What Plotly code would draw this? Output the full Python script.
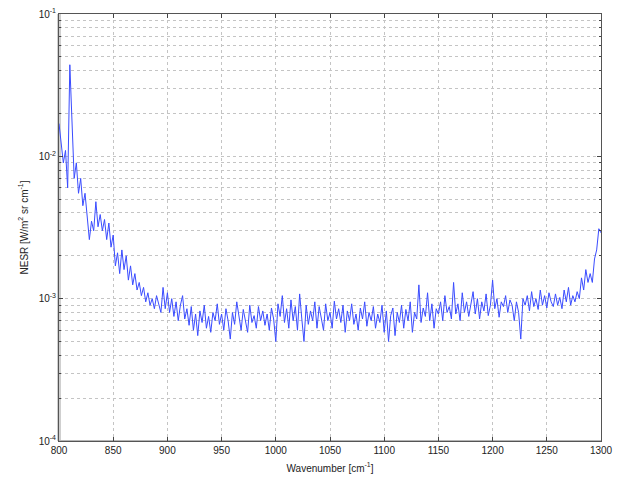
import plotly.graph_objects as go

# Wavenumber grid [cm^-1]
wavenumber = list(range(800, 1301, 2))

# NESR values in units of 1e-3 W/(m^2 sr cm^-1)
nesr_e3 = [
    17, 12, 9, 11, 6,
    44, 18, 7, 9, 5.5,
    7, 4.5, 5.5, 3.8, 2.6,
    3.5, 3.0, 4.8, 3.2, 3.9,
    3.0, 3.6, 2.6, 3.4, 2.3,
    2.8, 1.7, 2.1, 1.5, 2.2,
    1.6, 2.0, 1.35, 1.7, 1.25,
    1.5, 1.15, 1.3, 1.05, 1.2,
    0.95, 1.1, 0.9, 1.0, 0.85,
    1.05, 0.9, 0.8, 1.2, 0.85,
    1.1, 0.8, 1.0, 0.75, 0.95,
    0.7, 0.9, 1.05, 0.72, 0.85,
    0.65, 0.88, 0.6, 0.78, 0.55,
    0.82, 0.68, 0.9, 0.62, 0.75,
    0.58, 0.8, 0.7, 0.92, 0.66,
    0.78, 0.6, 0.85, 0.7, 0.52,
    0.8, 0.66, 0.95, 0.72, 0.6,
    0.84, 0.7, 0.58, 0.9, 0.68,
    0.76, 0.62, 0.88, 0.7, 0.82,
    0.65, 0.78, 0.6, 0.86, 0.72,
    0.5, 0.92, 0.75, 1.05, 0.68,
    0.85, 0.62, 0.98, 0.7, 0.88,
    0.6, 1.08, 0.72, 0.5, 0.9,
    0.66, 0.82, 0.7, 0.95, 0.62,
    0.88, 0.74, 0.6, 0.92, 0.7,
    0.8, 0.62, 0.96, 0.72, 0.85,
    0.68, 0.9, 0.58, 0.82, 0.7,
    0.92, 0.66, 0.78, 0.6, 0.86,
    0.72, 0.95, 0.64, 0.8, 0.7,
    0.88, 0.62, 0.78, 0.68, 0.9,
    0.58, 0.82, 0.5, 0.76, 0.86,
    0.55, 0.8, 0.68, 0.9, 0.62,
    0.84, 0.7, 0.95, 0.58, 0.8,
    0.72, 1.25, 0.68, 0.86, 0.75,
    1.1, 0.7, 0.92, 0.62, 0.85,
    0.78, 0.95, 0.7, 1.05, 0.8,
    0.88, 0.72, 1.3, 0.78, 0.92,
    0.7, 1.1, 0.8, 0.95, 0.75,
    0.9, 1.12, 0.78, 1.0, 0.72,
    0.95, 0.82, 1.08, 0.76, 0.9,
    1.35, 0.85, 1.0, 0.74, 0.95,
    0.88, 1.05, 0.8, 0.98, 0.9,
    0.7, 0.95, 0.8, 0.52, 1.0,
    0.9, 1.05, 0.82, 1.12, 0.88,
    1.0, 0.84, 1.15, 0.9, 1.05,
    0.86, 1.1, 0.95, 0.88, 1.08,
    0.9, 1.02, 0.85, 1.15, 0.95,
    1.2, 0.9, 1.05, 0.95, 1.12,
    1.0, 1.4, 1.15, 1.6, 1.3,
    1.5, 1.3, 1.9, 2.2, 3.1,
    2.9,
]
nesr = [v * 1e-3 for v in nesr_e3]

ytick_vals = [1e-4, 1e-3, 1e-2, 1e-1]
ytick_text = ["10<sup>-4</sup>", "10<sup>-3</sup>", "10<sup>-2</sup>", "10<sup>-1</sup>"]
xtick_vals = list(range(800, 1301, 50))

font = dict(family="Liberation Sans, Arial, sans-serif", size=10, color="#222")
grid_col = "#c4c4c4"

fig = go.Figure()
fig.add_trace(go.Scatter(
    x=wavenumber, y=nesr, mode="lines",
    line=dict(color="#3a4cff", width=1),
    showlegend=False,
))

fig.update_layout(
    width=619, height=486,
    margin=dict(l=59, r=18, t=14, b=45),
    paper_bgcolor="white", plot_bgcolor="white",
    font=font,
    shapes=[
        dict(type="line", xref="paper", yref="paper", x0=0, x1=0, y0=0, y1=1,
             line=dict(color="#cfcfcf", width=4), layer="below"),
        dict(type="line", xref="paper", yref="paper", x0=0, x1=1, y0=0, y1=0,
             line=dict(color="#b5b5b5", width=2), layer="below"),
    ],
)

fig.update_xaxes(
    range=[800, 1300], tickvals=xtick_vals, automargin=False,
    showgrid=True, gridcolor=grid_col, griddash="dot", gridwidth=1,
    ticks="inside", ticklen=4, tickcolor="#444",
    showline=True, linecolor="#555", linewidth=1, mirror="ticks",
    zeroline=False,
    title=dict(text="Wavenumber [cm<sup>-1</sup>]", standoff=9, font=font),
    tickfont=font,
)
fig.update_yaxes(
    type="log", range=[-4, -1], automargin=False,
    tickvals=ytick_vals, ticktext=ytick_text,
    showgrid=True, gridcolor=grid_col, griddash="dot", gridwidth=1,
    ticks="inside", ticklen=4, tickcolor="#444",
    minor=dict(dtick="D1", showgrid=True, gridcolor=grid_col, griddash="dot",
               ticks="inside", ticklen=2, tickcolor="#444"),
    showline=True, linecolor="#555", linewidth=1, mirror="ticks",
    zeroline=False,
    title=dict(text="NESR [W/m<sup>2</sup> sr cm<sup>-1</sup>]", standoff=8, font=font),
    tickfont=font,
)

fig.write_html(
    "out.html",
    config={"displayModeBar": False},
    post_script="document.body.style.margin='0';document.body.style.overflow='hidden';",
)
